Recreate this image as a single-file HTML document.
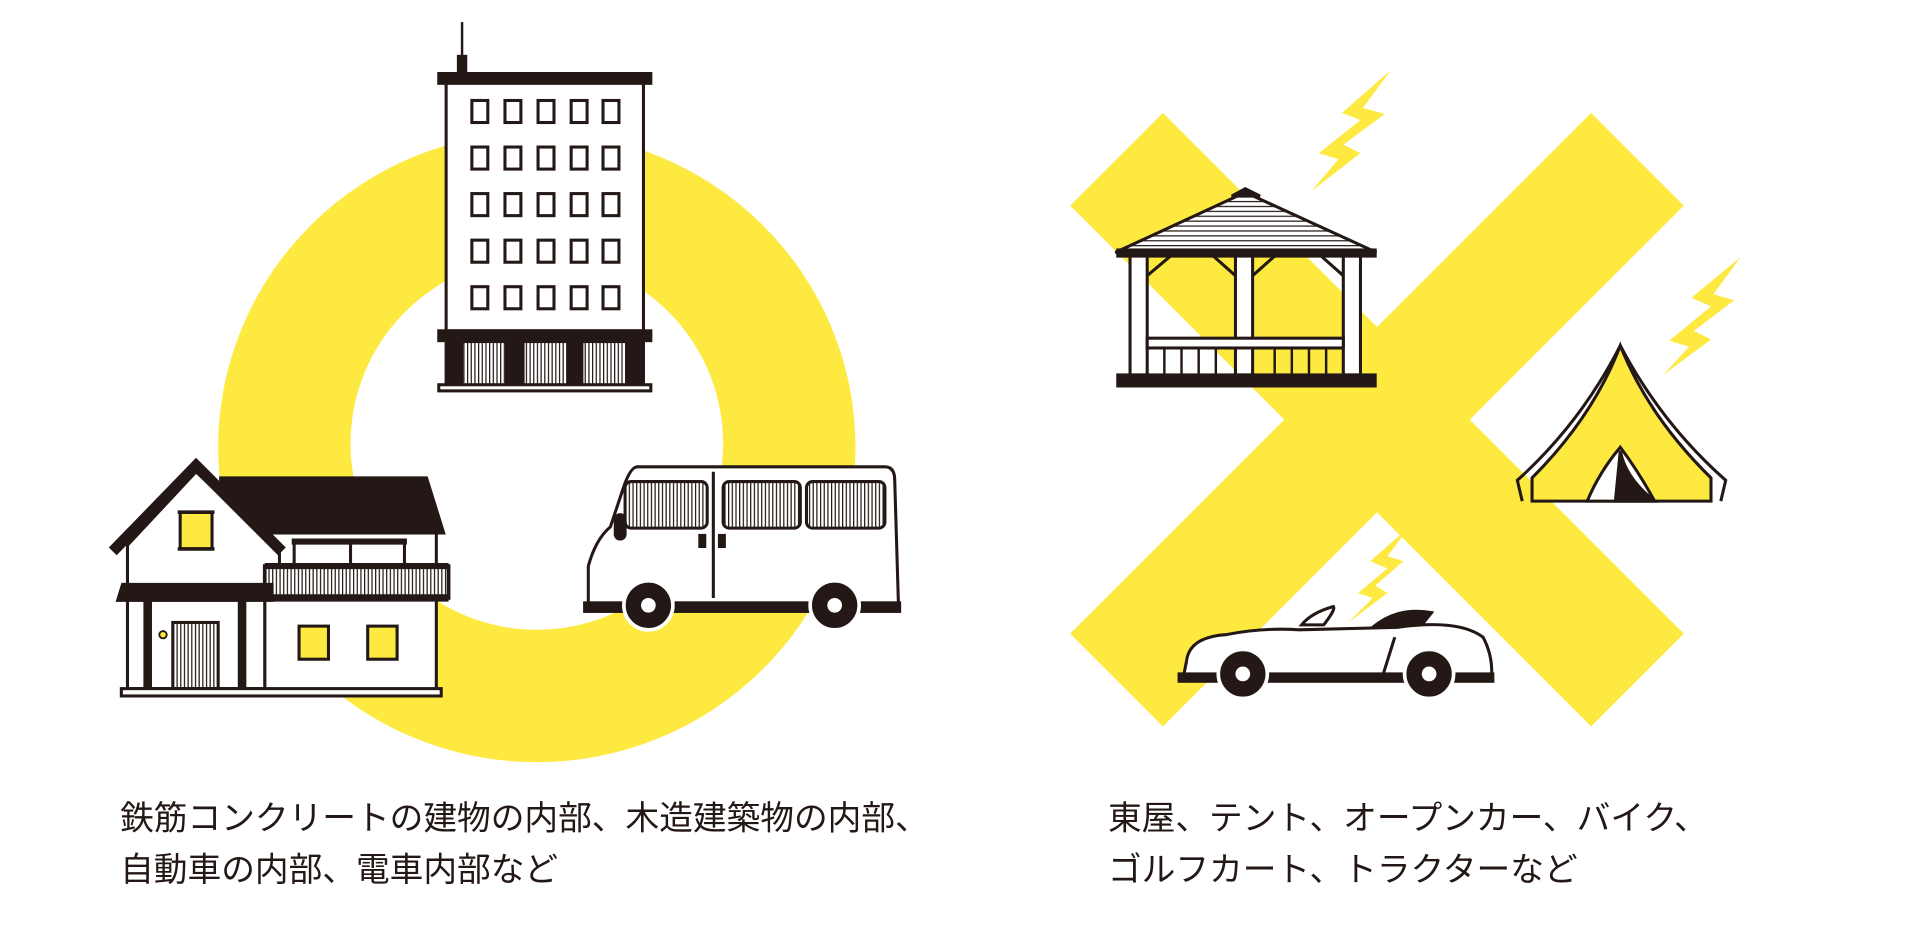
<!DOCTYPE html>
<html><head><meta charset="utf-8"><style>
html,body{margin:0;padding:0;background:#fff;width:1912px;height:930px;overflow:hidden}
svg{display:block}
text{font-family:"Liberation Sans","Noto Sans CJK JP",sans-serif;fill:#231815}
</style></head><body>
<svg width="1912" height="930" viewBox="0 0 1560 759" preserveAspectRatio="none">
<defs>
<pattern id="st" width="3" height="4" patternUnits="userSpaceOnUse"><rect width="3" height="4" fill="#fff"/><rect width="1" height="4" fill="#231815"/></pattern>
<pattern id="hs" width="4" height="4" patternUnits="userSpaceOnUse"><rect width="4" height="4" fill="#fff"/><rect width="4" height="1" fill="#231815"/></pattern>
</defs>
<path fill-rule="evenodd" fill="#FDE93F" d="M178,365 a260,257 0 1,0 520,0 a260,257 0 1,0 -520,0 Z M286,362 a152,152 0 1,0 304,0 a152,152 0 1,0 -304,0 Z"/>
<g stroke="#FDE93F" stroke-width="107" stroke-linecap="butt">
<line x1="911" y1="130" x2="1336" y2="555"/>
<line x1="1336" y1="130" x2="911" y2="555"/>
</g>
<g stroke="#231815" fill="#fff" stroke-width="2.5">
<line x1="377" y1="18" x2="377" y2="52" stroke-width="2"/>
<rect x="374" y="46" width="6" height="14" fill="#231815"/>
<rect x="358" y="60" width="173" height="8" fill="#231815"/>
<rect x="364" y="68" width="161" height="202"/>
<g fill="#fff" stroke-width="2.5">
<rect x="385" y="82" width="13" height="18"/><rect x="412" y="82" width="13" height="18"/><rect x="439" y="82" width="13" height="18"/><rect x="466" y="82" width="13" height="18"/><rect x="492" y="82" width="13" height="18"/>
<rect x="385" y="120" width="13" height="18"/><rect x="412" y="120" width="13" height="18"/><rect x="439" y="120" width="13" height="18"/><rect x="466" y="120" width="13" height="18"/><rect x="492" y="120" width="13" height="18"/>
<rect x="385" y="158" width="13" height="18"/><rect x="412" y="158" width="13" height="18"/><rect x="439" y="158" width="13" height="18"/><rect x="466" y="158" width="13" height="18"/><rect x="492" y="158" width="13" height="18"/>
<rect x="385" y="196" width="13" height="18"/><rect x="412" y="196" width="13" height="18"/><rect x="439" y="196" width="13" height="18"/><rect x="466" y="196" width="13" height="18"/><rect x="492" y="196" width="13" height="18"/>
<rect x="385" y="234" width="13" height="18"/><rect x="412" y="234" width="13" height="18"/><rect x="439" y="234" width="13" height="18"/><rect x="466" y="234" width="13" height="18"/><rect x="492" y="234" width="13" height="18"/>
</g>
<rect x="358" y="270" width="173" height="8" fill="#231815"/>
<rect x="364" y="278" width="161" height="36" fill="#231815"/>
<rect x="378" y="280" width="34" height="33" fill="url(#st)" stroke="none"/>
<rect x="428" y="280" width="34" height="33" fill="url(#st)" stroke="none"/>
<rect x="476" y="280" width="34" height="33" fill="url(#st)" stroke="none"/>
<rect x="358" y="314" width="173" height="5"/>
<polygon points="180,390 348,390 362,435 180,435" fill="#231815"/>
<rect x="216" y="435" width="140" height="128"/>
<polygon points="160,385 228,450 228,485 104,485 104,445"/>
<polyline points="92,450 160,380 230,450" fill="none" stroke-width="9"/>
<rect x="147" y="418" width="26" height="30" fill="#FDE93F"/>
<line x1="145" y1="418" x2="175" y2="418" stroke-width="3"/><line x1="145" y1="448" x2="175" y2="448" stroke-width="3"/>
<rect x="240" y="442" width="90" height="20" fill="#fff"/>
<line x1="238" y1="442" x2="332" y2="442" stroke-width="5"/>
<line x1="286" y1="442" x2="286" y2="462"/>
<rect x="216" y="462" width="150" height="26" fill="url(#st)" stroke-width="3"/>
<line x1="216" y1="462" x2="366" y2="462" stroke-width="5"/>
<line x1="216" y1="488" x2="366" y2="488" stroke-width="6"/>
<polygon points="100,477 222,477 222,490 96,490" fill="#231815"/>
<rect x="104" y="490" width="112" height="72"/>
<rect x="117" y="490" width="7" height="72" fill="#231815" stroke="none"/>
<rect x="194" y="490" width="7" height="72" fill="#231815" stroke="none"/>
<rect x="141" y="508" width="37" height="54" fill="url(#st)"/>
<circle cx="133" cy="518" r="3" fill="#FDE93F" stroke-width="1.5"/>
<rect x="244" y="511" width="24" height="27" fill="#FDE93F"/>
<rect x="300" y="511" width="24" height="27" fill="#FDE93F"/>
<rect x="99" y="562" width="261" height="6"/>
<path d="M520,381 L722,381 Q730,381 730,392 L733,492 L480,496 L480,462 Q486,440 498,430 L508,400 Q514,381 520,381 Z"/>
<rect x="510" y="393" width="67" height="38" rx="5" fill="url(#st)"/>
<rect x="590" y="393" width="63" height="38" rx="5" fill="url(#st)"/>
<rect x="658" y="393" width="64" height="38" rx="5" fill="url(#st)"/>
<line x1="582" y1="385" x2="582" y2="488"/>
<rect x="571" y="437" width="4" height="9" fill="#231815"/><rect x="587" y="437" width="4" height="9" fill="#231815"/>
<rect x="502" y="420" width="8" height="20" rx="4" fill="#231815"/>
<rect x="477" y="492" width="257" height="7" fill="#231815"/>
<circle cx="529" cy="494" r="20" fill="#231815" stroke="#fff" stroke-width="3"/><circle cx="529" cy="494" r="6" fill="#fff" stroke="none"/>
<circle cx="681" cy="494" r="20" fill="#231815" stroke="#fff" stroke-width="3"/><circle cx="681" cy="494" r="6" fill="#fff" stroke="none"/>
<polygon points="1016,157 910,206 1123,206" fill="url(#hs)"/>
<polygon points="1005,160 1016,154 1028,160" fill="#231815"/>
<rect x="912" y="204" width="210" height="5" fill="#231815"/>
<rect x="922" y="209" width="14" height="97"/><rect x="1008" y="209" width="14" height="97"/><rect x="1096" y="209" width="14" height="97"/>
<line x1="936" y1="225" x2="955" y2="209"/><line x1="990" y1="209" x2="1008" y2="225"/>
<line x1="1022" y1="225" x2="1040" y2="209"/><line x1="1078" y1="209" x2="1096" y2="225"/>
<rect x="936" y="276" width="160" height="8"/>
<g stroke-width="2"><line x1="950" y1="284" x2="950" y2="306"/><line x1="964" y1="284" x2="964" y2="306"/><line x1="978" y1="284" x2="978" y2="306"/><line x1="992" y1="284" x2="992" y2="306"/><line x1="1040" y1="284" x2="1040" y2="306"/><line x1="1054" y1="284" x2="1054" y2="306"/><line x1="1068" y1="284" x2="1068" y2="306"/><line x1="1082" y1="284" x2="1082" y2="306"/></g>
<rect x="912" y="306" width="210" height="9" fill="#231815"/>
<path d="M1322,282 Q1300,340 1250,390 L1250,409 L1396,409 L1396,390 Q1345,340 1322,282 Z" fill="#FDE93F"/>
<path d="M1322,282 Q1290,345 1238,392 L1242,409 M1322,282 Q1355,345 1408,392 L1404,409" fill="none"/>
<path d="M1322,365 Q1305,385 1295,409 L1350,409 Q1337,385 1322,365 Z" fill="#fff"/>
<path d="M1322,368 Q1326,390 1350,409 L1318,409 Z" fill="#231815"/>
<path d="M968,540 Q970,520 1000,518 Q1030,512 1060,514 L1140,512 Q1190,505 1210,520 Q1218,535 1217,552 L965,555 Z"/>
<path d="M1080,510 Q1090,497 1088,495 Q1070,500 1062,510 Z" fill="#fff"/>
<path d="M1120,512 Q1140,495 1168,500 L1160,510 Z" fill="#231815"/>
<line x1="1138" y1="520" x2="1128" y2="552"/>
<rect x="962" y="550" width="256" height="6" fill="#231815"/>
<circle cx="1014" cy="550" r="20" fill="#231815" stroke="#fff" stroke-width="3"/><circle cx="1014" cy="550" r="6" fill="#fff" stroke="none"/>
<circle cx="1166" cy="550" r="20" fill="#231815" stroke="#fff" stroke-width="3"/><circle cx="1166" cy="550" r="6" fill="#fff" stroke="none"/>
</g>
<g fill="#FDE93F">
<polygon points="1135,57 1095,92 1110,98 1076,125 1092,130 1070,156 1110,125 1096,118 1130,93 1112,88"/>
<polygon points="1420,210 1380,243 1396,250 1362,278 1378,283 1357,306 1396,277 1382,270 1415,245 1398,240"/>
<polygon points="1150,430 1118,458 1132,464 1108,484 1120,488 1100,508 1132,484 1122,478 1145,458 1132,454"/>
</g>
<g font-size="27.5">
<text x="98" y="677">鉄筋コンクリートの建物の内部、木造建築物の内部、</text>
<text x="98" y="719">自動車の内部、電車内部など</text>
<text x="904" y="677">東屋、テント、オープンカー、バイク、</text>
<text x="904" y="719">ゴルフカート、トラクターなど</text>
</g>
</svg>
</body></html>
